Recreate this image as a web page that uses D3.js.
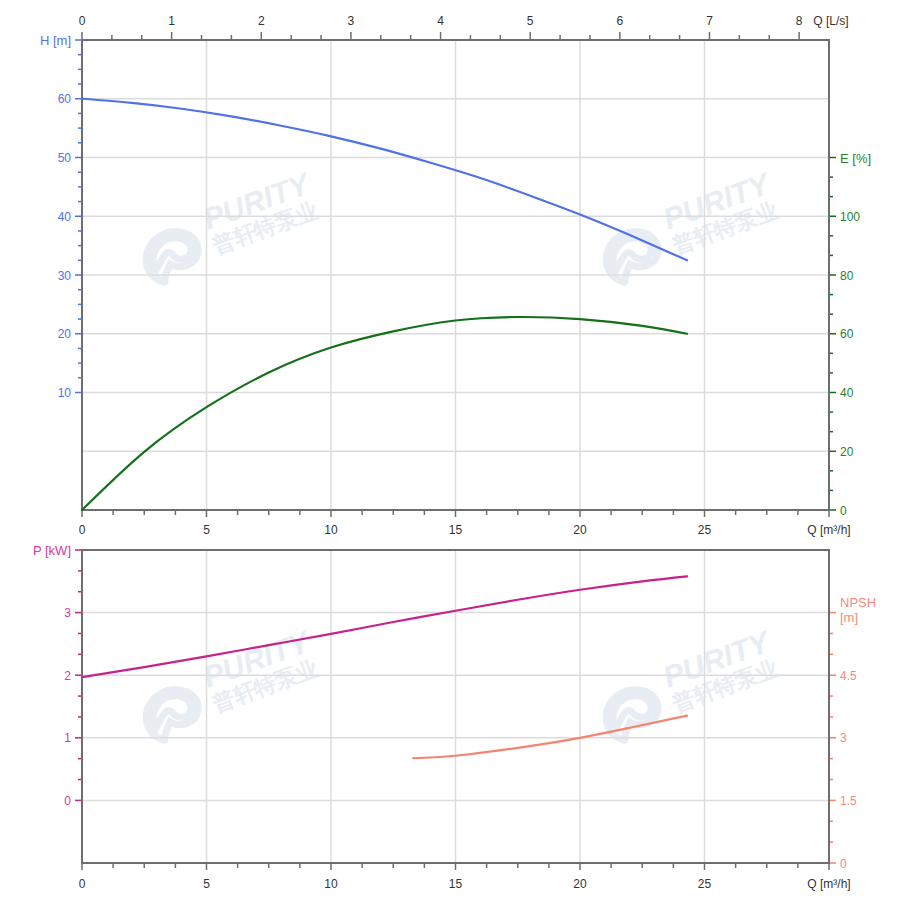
<!DOCTYPE html>
<html><head><meta charset="utf-8">
<script src="https://cdn.jsdelivr.net/npm/d3@7"></script>
<style>body{margin:0;background:#fff}svg{display:block}text{font-family:"Liberation Sans",Arial,sans-serif}</style>
</head><body><svg id="c" width="897" height="913"></svg>
<script>
// ---- data ----
const qH = [0, 2, 4, 6, 8, 10, 12, 14, 16, 18, 20, 22, 24.3];
const headH = [60, 59.3, 58.3, 57.0, 55.4, 53.6, 51.5, 49.1, 46.5, 43.5, 40.3, 36.8, 32.5];
const qE = [0, 2.5, 5, 7.5, 10, 12.5, 15, 17.5, 20, 22.5, 24.3];
const effE = [0, 19.8, 35.0, 46.8, 55.3, 60.8, 64.5, 65.7, 65.0, 62.7, 60.0];
const qP = [0, 2.5, 5, 7.5, 10, 12.5, 15, 17.5, 20, 22.5, 24.3];
const powerP = [1.97, 2.13, 2.30, 2.48, 2.66, 2.85, 3.03, 3.205, 3.365, 3.50, 3.58];
const qN = [13.3, 15, 17.5, 20, 22, 24.3];
const npshN = [2.51, 2.57, 2.76, 3.0, 3.24, 3.53];
const qTickLabels = [0, 5, 10, 15, 20, 25];
const lsTickLabels = [0, 1, 2, 3, 4, 5, 6, 7, 8];
const hTickLabels = [10, 20, 30, 40, 50, 60];
const eTickLabels = [0, 20, 40, 60, 80, 100];
const pTickLabels = [0, 1, 2, 3];
const nTickLabels = [0, 1.5, 3, 4.5];

const C = {H:"#4f72e8", E:"#15701a", Etxt:"#2a7f2a", P:"#c8218c", Ptxt:"#d8399e", N:"#f6826f", Ntxt:"#f58a7e", axis:"#6e6e6e", grid:"#dcdcdc", txt:"#333"};
const svg = d3.select("#c");
const L = 82, R = 829;
const T1 = 40, B1 = 510, T2 = 550, B2 = 863;

const x = d3.scaleLinear().domain([0, 30]).range([L, R]);
const xLs = d3.scaleLinear().domain([0, 30/3.6]).range([L, R]);
const yH = d3.scaleLinear().domain([-10, 70]).range([B1, T1]);
const yE = d3.scaleLinear().domain([0, 160]).range([B1, T1]);
const yP = d3.scaleLinear().domain([-1, 4]).range([B2, T2]);
const yN = d3.scaleLinear().domain([0, 7.5]).range([B2, T2]);

// watermarks
function watermark(cx, cy) {
  const g = svg.append("g").attr("transform", `translate(${cx},${cy})`).attr("fill", "#e8edf4");
  g.append("path").attr("d", "M-8,26 C-30,20 -32,-8 -12,-20 C4,-30 28,-22 26,-4 C24,10 8,14 -2,8 L-6,18 C-8,24 -6,27 -8,26 Z M-16,14 C-24,0 -14,-16 0,-18 C14,-20 22,-10 18,-2 C14,6 4,4 0,-2 C-6,-8 -10,4 -16,14 Z")
    .attr("fill", "none").attr("stroke", "#e8edf4").attr("stroke-width", 7);
  g.append("text").attr("transform", "translate(36,-26) rotate(-20)").attr("font-size", 30).attr("font-weight", "bold").attr("font-style", "italic").text("PURITY");
  g.append("text").attr("transform", "translate(44,-2) rotate(-20)").attr("font-size", 22).attr("font-weight", "bold").attr("font-family", "Noto Sans CJK SC").text("普轩特泵业");
}
watermark(172, 256); watermark(632, 256); watermark(172, 714); watermark(632, 714);

// grid
function vgrid(t, b) {
  svg.append("g").selectAll("line").data(qTickLabels.filter(d => d > 0)).join("line")
    .attr("x1", d => x(d)).attr("x2", d => x(d)).attr("y1", t).attr("y2", b)
    .attr("stroke", C.grid).attr("stroke-width", 1.5);
}
vgrid(T1, B1); vgrid(T2, B2);
svg.append("g").selectAll("line").data([0, 10, 20, 30, 40, 50, 60]).join("line")
  .attr("x1", L).attr("x2", R).attr("y1", d => yH(d)).attr("y2", d => yH(d))
  .attr("stroke", C.grid).attr("stroke-width", 1.5);
svg.append("g").selectAll("line").data([0, 1, 2, 3]).join("line")
  .attr("x1", L).attr("x2", R).attr("y1", d => yP(d)).attr("y2", d => yP(d))
  .attr("stroke", C.grid).attr("stroke-width", 1.5);

const range = (a, b, s) => d3.range(0, Math.round((b - a) / s) + 1).map(i => a + i * s);

// bottom axes (m3/h)
function qAxis(yb, labY) {
  const g = svg.append("g");
  g.selectAll("line").data(range(0, 30, 1.25)).join("line")
    .attr("x1", d => x(d)).attr("x2", d => x(d)).attr("y1", yb).attr("y2", d => yb + (d % 5 === 0 ? 7 : 5))
    .attr("stroke", C.axis).attr("stroke-width", 1.5);
  g.selectAll("text").data(qTickLabels).join("text")
    .attr("x", d => x(d)).attr("y", labY).attr("text-anchor", "middle").attr("font-size", 12).attr("fill", C.txt).text(d => d);
  g.append("text").attr("x", x(30)).attr("y", labY).attr("text-anchor", "middle").attr("font-size", 12).attr("fill", C.txt).text("Q [m³/h]");
}
qAxis(B1, 534); qAxis(B2, 888);

// top L/s axis
const gt = svg.append("g");
gt.selectAll("line").data(range(0, 8, 1/3)).join("line")
  .attr("x1", d => xLs(d)).attr("x2", d => xLs(d)).attr("y1", T1).attr("y2", (d, i) => T1 - (i % 3 === 0 ? 8 : 5))
  .attr("stroke", C.axis).attr("stroke-width", 1.5);
gt.selectAll("text").data(lsTickLabels).join("text")
  .attr("x", d => xLs(d)).attr("y", 25).attr("text-anchor", "middle").attr("font-size", 12).attr("fill", C.txt).text(d => d);
gt.append("text").attr("x", 831).attr("y", 25).attr("text-anchor", "middle").attr("font-size", 12).attr("fill", C.txt).text("Q [L/s]");

// left / right value axes
function vAxis(scale, ticks, labels, side, color, tcolor, topVal) {
  const g = svg.append("g");
  const sgn = side === "left" ? -1 : 1;
  const x0 = side === "left" ? L : R;
  const isMajor = d => labels.some(l => Math.abs(l - d) < 1e-6) || Math.abs(d - topVal) < 1e-6;
  g.selectAll("line").data(ticks).join("line")
    .attr("x1", x0).attr("x2", d => x0 + sgn * (isMajor(d) ? 7 : 4)).attr("y1", d => scale(d)).attr("y2", d => scale(d))
    .attr("stroke", color).attr("stroke-width", 1.5);
  g.selectAll("text").data(labels).join("text")
    .attr("x", x0 + sgn * 11).attr("y", d => scale(d) + 4.5).attr("text-anchor", side === "left" ? "end" : "start")
    .attr("font-size", 12).attr("fill", tcolor).text(d => d);
  return g;
}
vAxis(yH, range(10, 70, 2.5), hTickLabels, "left", C.H, C.H, 70)
  .append("text").attr("x", L - 11).attr("y", yH(70) + 5).attr("text-anchor", "end").attr("font-size", 13).attr("fill", C.H).text("H [m]");
vAxis(yE, range(0, 120, 20/3), eTickLabels, "right", C.E, C.Etxt, 120)
  .append("text").attr("x", R + 11).attr("y", yE(120) + 5).attr("font-size", 13).attr("fill", C.Etxt).text("E [%]");
vAxis(yP, range(0, 4, 1/3), pTickLabels, "left", C.P, C.Ptxt, 4)
  .append("text").attr("x", L - 11).attr("y", yP(4) + 5).attr("text-anchor", "end").attr("font-size", 13).attr("fill", C.Ptxt).text("P [kW]");
const gn = vAxis(yN, range(0, 6, 0.5), nTickLabels, "right", C.N, C.Ntxt, 6);
gn.append("text").attr("x", R + 11).attr("y", yN(6) - 6).attr("font-size", 13).attr("fill", C.Ntxt).text("NPSH");
gn.append("text").attr("x", R + 11).attr("y", yN(6) + 9).attr("font-size", 13).attr("fill", C.Ntxt).text("[m]");

// frames
svg.append("rect").attr("x", L).attr("y", T1).attr("width", R - L).attr("height", B1 - T1).attr("fill", "none").attr("stroke", C.axis).attr("stroke-width", 2);
svg.append("rect").attr("x", L).attr("y", T2).attr("width", R - L).attr("height", B2 - T2).attr("fill", "none").attr("stroke", C.axis).attr("stroke-width", 2);

// curves
function curve(qs, vs, ys, color) {
  svg.append("path").datum(qs.map((q, i) => [q, vs[i]]))
    .attr("d", d3.line().x(d => x(d[0])).y(d => ys(d[1])).curve(d3.curveNatural))
    .attr("fill", "none").attr("stroke", color).attr("stroke-width", 2.2).attr("stroke-linecap", "round");
}
curve(qH, headH, yH, C.H);
curve(qE, effE, yE, C.E);
curve(qP, powerP, yP, C.P);
curve(qN, npshN, yN, C.N);
</script></body></html>
